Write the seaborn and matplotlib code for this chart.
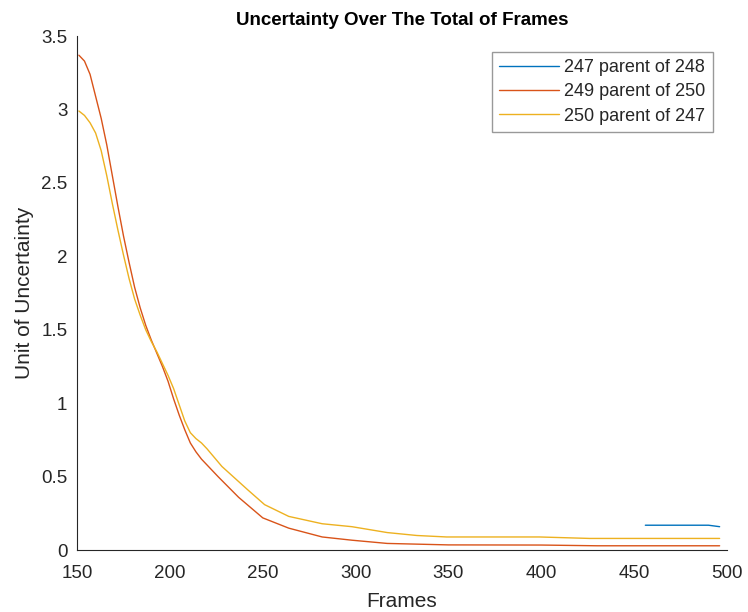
import numpy as np
import pandas as pd
import matplotlib
matplotlib.use("Agg")
import matplotlib.pyplot as plt
import seaborn as sns

# ---- data ----
series_names = ["247 parent of 248", "249 parent of 250", "250 parent of 247"]

frames_247 = [456, 470, 490, 496]
unc_247 = [0.17, 0.17, 0.17, 0.16]

frames_249 = [151, 154, 157, 160, 163, 166, 169, 172, 175, 178, 181, 184, 187, 190,
              193, 196, 199, 202, 205, 208, 211, 214, 217, 226, 237, 250, 264, 282,
              298, 317, 350, 400, 430, 496]
unc_249 = [3.37, 3.33, 3.24, 3.09, 2.94, 2.76, 2.55, 2.34, 2.14, 1.96, 1.79, 1.65, 1.53, 1.43,
           1.34, 1.25, 1.15, 1.03, 0.92, 0.82, 0.73, 0.67, 0.62, 0.50, 0.36, 0.22, 0.15, 0.09,
           0.068, 0.046, 0.036, 0.035, 0.03, 0.03]

frames_250 = [151, 154, 157, 160, 163, 166, 169, 172, 175, 178, 181, 184, 187, 190,
              193, 196, 199, 202, 205, 208, 211, 214, 217, 220, 228, 242, 251, 264, 282,
              298, 317, 333, 349, 399, 426, 496]
unc_250 = [2.99, 2.96, 2.91, 2.84, 2.72, 2.55, 2.36, 2.18, 2.01, 1.85, 1.71, 1.60, 1.50, 1.42,
           1.35, 1.27, 1.19, 1.10, 0.99, 0.88, 0.80, 0.76, 0.73, 0.69, 0.57, 0.41, 0.31, 0.23,
           0.18, 0.16, 0.12, 0.10, 0.09, 0.09, 0.08, 0.08]

colors = ["#0072BD", "#D95319", "#EDB120"]
x_ticks = [150, 200, 250, 300, 350, 400, 450, 500]
y_ticks = [0, 0.5, 1, 1.5, 2, 2.5, 3, 3.5]
y_tick_labels = ["0", "0.5", "1", "1.5", "2", "2.5", "3", "3.5"]

df = pd.concat([
    pd.DataFrame({"Frames": frames_247, "Unc": unc_247, "Series": series_names[0]}),
    pd.DataFrame({"Frames": frames_249, "Unc": unc_249, "Series": series_names[1]}),
    pd.DataFrame({"Frames": frames_250, "Unc": unc_250, "Series": series_names[2]}),
], ignore_index=True)

sns.set_theme(style="white")
plt.rcParams["font.family"] = ["Liberation Sans", "DejaVu Sans"]
text_color = "#262626"

fig = plt.figure(figsize=(7.48, 6.12), dpi=100)
ax = fig.add_axes([0.103, 0.101, 0.869, 0.840])

sns.lineplot(data=df, x="Frames", y="Unc", hue="Series", hue_order=series_names,
             palette=dict(zip(series_names, colors)), estimator=None, sort=False,
             linewidth=1.0, ax=ax)

ax.set_xlim(150, 500)
ax.set_ylim(0, 3.5)
ax.set_xticks(x_ticks)
ax.set_yticks(y_ticks)
ax.set_yticklabels(y_tick_labels)
ax.tick_params(direction="in", length=5, width=0.8, colors=text_color,
               labelsize=13.5)
ax.tick_params(axis="x", pad=11)
ax.tick_params(axis="y", pad=7)
for s in ["top", "right"]:
    ax.spines[s].set_visible(False)
for s in ["left", "bottom"]:
    ax.spines[s].set_color(text_color)
    ax.spines[s].set_linewidth(0.8)

ax.set_xlabel("Frames", fontsize=15, color=text_color, labelpad=7)
ax.set_ylabel("Unit of Uncertainty", fontsize=15, color=text_color, labelpad=5)
ax.set_title("Uncertainty Over The Total of Frames", fontsize=13.5,
             fontweight="bold", color="black", pad=8)

leg = ax.legend(loc="upper right", bbox_to_anchor=(0.978, 0.969), borderaxespad=0,
                fontsize=13, frameon=True, fancybox=False, handlelength=3.3,
                handletextpad=0.3, labelspacing=0.4, borderpad=0.4)
leg.get_frame().set_edgecolor("#808080")
leg.get_frame().set_linewidth(1.0)
for t in leg.get_texts():
    t.set_color(text_color)

fig.savefig("out.png", dpi=100, facecolor="white")
